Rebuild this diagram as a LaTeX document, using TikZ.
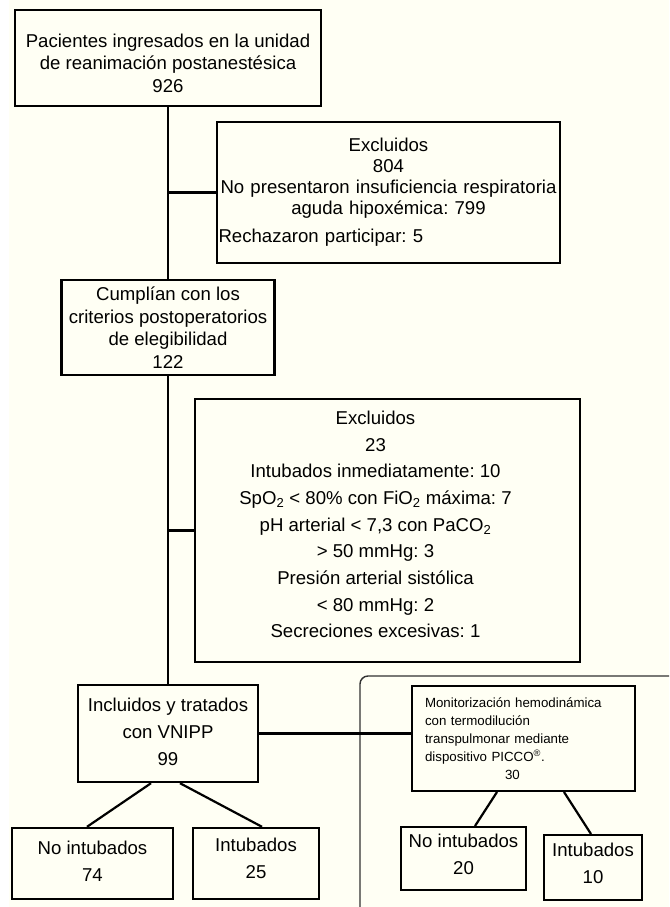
\documentclass[tikz,border=0pt]{standalone}
\usepackage{fontspec}
\setmainfont{Liberation Sans}
\usepackage{tikz}
\usetikzlibrary{positioning}
\definecolor{paper}{RGB}{255,255,244}
\definecolor{framegray}{RGB}{50,50,50}
\frenchspacing

\begin{document}
\begin{tikzpicture}[x=1pt,y=-1pt,
  every node/.style={align=center,inner sep=0pt},
  mainbox/.style={draw,line width=2.6pt,font=\fontsize{18.6}{22.5}\selectfont},
  tallbox/.style={draw,line width=2.4pt,text depth=4pt,font=\fontsize{18.6}{27}\selectfont},
  sidebox/.style={draw,line width=2pt,text depth=8pt,font=\fontsize{18.6}{27}\selectfont},
  exctext/.style={font=\fontsize{18.6}{26.7}\selectfont},
  link/.style={line width=2.2pt}]
\fill[white] (0,0) rectangle (669,907);
\fill[paper] (9,0) rectangle (669,907);
\useasboundingbox (0,0) rectangle (669,907);
% main column
\node[mainbox,minimum width=306pt,minimum height=96pt,text height=68.5pt] (pac) at (168,58) {Pacientes ingresados en la unidad\\de reanimación postanestésica\\926};
\node[mainbox,minimum width=213pt,minimum height=95pt,below=171.4pt of pac] (cum) {Cumplían con los\\criterios postoperatorios\\de elegibilidad\\122};
\node[tallbox,minimum width=180pt,minimum height=97pt,below=307.5pt of cum] (inc) {Incluidos y tratados\\con VNIPP\\99};
\node[tallbox,minimum width=161pt,minimum height=71pt,below=43.6pt of inc,xshift=-75.5pt] (noint) {No intubados\\74};
\node[tallbox,minimum width=126pt,minimum height=71pt,text depth=10pt,below=43.6pt of inc,xshift=88pt] (intub) {Intubados\\25};
\draw[link] (pac) -- (cum);
\draw[link] (cum) -- (inc);
\draw[link] ([xshift=-17pt]inc.south) -- ([xshift=-5.5pt]noint.north);
\draw[link] ([xshift=12pt]inc.south) -- ([xshift=6pt]intub.north);
% exclusions
\node[mainbox,text width=340pt,minimum width=343pt,minimum height=141pt,font=\fontsize{18.6}{21}\selectfont] (exc1) at (388.5,192.5) {Excluidos\\804\\No presentaron insuficiencia respiratoria\\aguda hipoxémica: 799\\[7pt]\makebox[\linewidth][l]{Rechazaron participar: 5}};
\node[mainbox,minimum width=385pt,minimum height=263pt,label={[exctext,xshift=-12pt,yshift=6pt]center:{Excluidos\\23\\Intubados inmediatamente: 10\\SpO\textsubscript{2} < 80\% con FiO\textsubscript{2} máxima: 7\\pH arterial < 7,3 con PaCO\textsubscript{2}\\> 50 mmHg: 3\\Presión arterial sistólica\\< 80 mmHg: 2\\Secreciones excesivas: 1}}] (exc2) at (387.5,530.5) {};
\draw[link] (exc1.west) -- (exc1.west -| pac.south);
\draw[link] (exc2.west) -- (exc2.west -| cum.south);
% PICCO subgroup
\draw[framegray,line width=1.4pt,rounded corners=8pt] (360,907) -- (360,676) -- (669,676);
\node[draw,line width=2pt,minimum width=223pt,minimum height=105pt,text width=197pt,align=left,font=\fontsize{13.3}{18}\selectfont] (mon) at (523.5,738.5) {Monitorización hemodinámica\\con termodilución\\transpulmonar mediante\\dispositivo PICCO\textsuperscript{\textregistered}.\\\hspace*{80pt}30};
\node[sidebox,minimum width=125pt,minimum height=63pt] (noint2) at (463.5,858.5) {No intubados\\20};
\node[sidebox,minimum width=98pt,minimum height=65pt] (intub2) at (593,867.5) {Intubados\\10};
\draw[link] (inc.east) -- (inc.east -| mon.west);
\draw[link] ([xshift=-26.5pt]mon.south) -- ([xshift=11.5pt]noint2.north);
\draw[link] ([xshift=40.5pt]mon.south) -- ([xshift=-2pt]intub2.north);
\end{tikzpicture}
\end{document}
